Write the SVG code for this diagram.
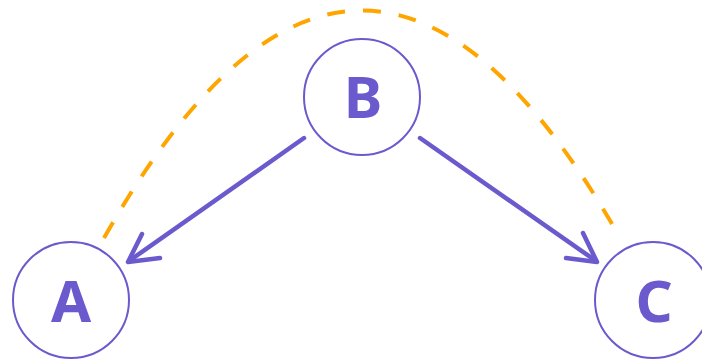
<svg xmlns="http://www.w3.org/2000/svg" width="702" height="361" viewBox="0 0 702 361">
<style>
.node circle{fill:#fff;stroke:#6a5acd;stroke-width:2}
.node text{font-family:"Noto Sans","Open Sans",sans-serif;font-weight:700;font-size:58px;fill:#6a5acd;text-anchor:middle}
.edge{fill:none;stroke:#6a5acd;stroke-width:4.5;stroke-linecap:round;stroke-linejoin:round}
.dash{fill:none;stroke:#ffa500;stroke-width:4;stroke-dasharray:18 18}
</style>
<rect width="702" height="361" fill="#fff"/>
<g id="connectors">
<path class="dash" d="M104,238 Q361,-216 619,236"/>
<path class="edge" d="M304,138 L129,261"/>
<path class="edge" d="M142,234 L128,262 L160,258"/>
<path class="edge" d="M420,138 L596,261"/>
<path class="edge" d="M583,233 L597,262 L566,258"/>
</g>
<g id="node-A" class="node">
<circle cx="71" cy="300" r="58"/>
<text x="71" y="322">A</text>
</g>
<g id="node-B" class="node">
<circle cx="362" cy="97" r="58"/>
<text x="363" y="118">B</text>
</g>
<g id="node-C" class="node">
<circle cx="653" cy="300" r="58"/>
<text x="654" y="322">C</text>
</g>
</svg>
